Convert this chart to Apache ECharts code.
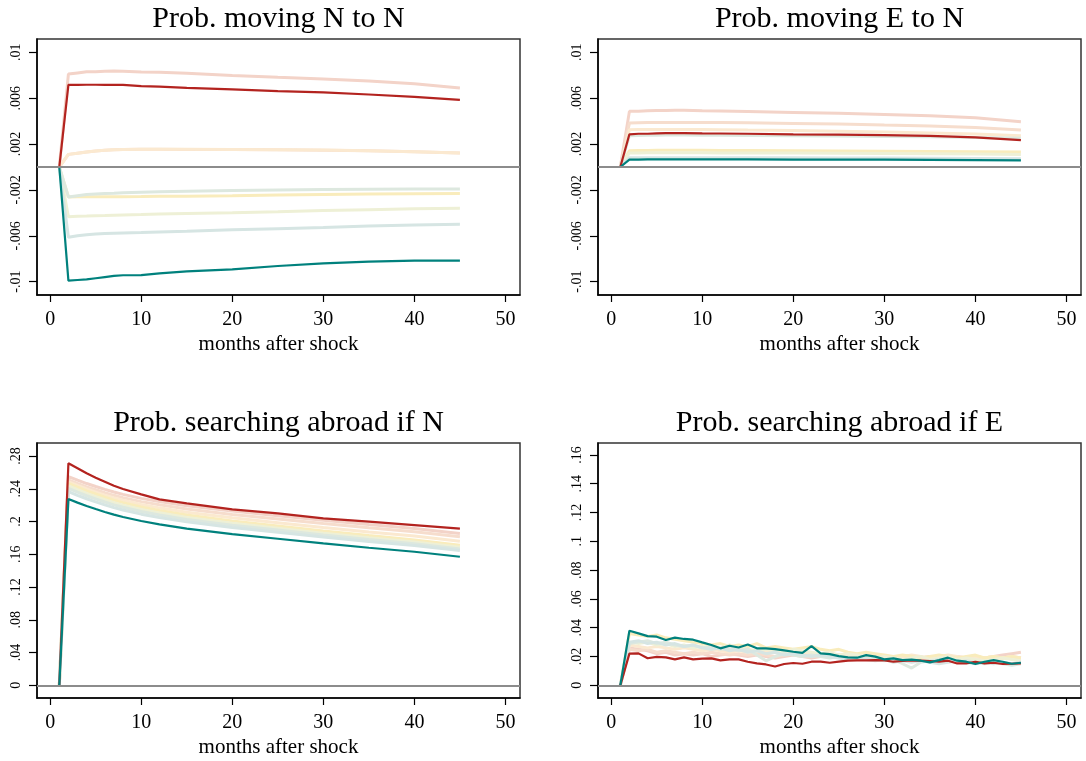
<!DOCTYPE html>
<html>
<head>
<meta charset="utf-8">
<script src="https://cdn.jsdelivr.net/npm/echarts@6/dist/echarts.min.js"></script>
<style>
  html, body { margin: 0; padding: 0; background: #fff; }
  #chart { width: 1086px; height: 761px; }
</style>
</head>
<body>
<div id="chart"></div>
<script>
  // months on the x axis: smooth panels read at selected months, last panel every month
  const monthsSmooth = [1, 2, 3, 4, 5, 6, 7, 8, 10, 12, 15, 20, 25, 30, 35, 40, 45];
  const monthsAll = [1, 2, 3, 4, 5, 6, 7, 8, 9, 10, 11, 12, 13, 14, 15, 16, 17, 18, 19, 20,
    21, 22, 23, 24, 25, 26, 27, 28, 29, 30, 31, 32, 33, 34, 35, 36, 37, 38, 39, 40,
    41, 42, 43, 44, 45];

  const xTicks = [0, 10, 20, 30, 40, 50];
  const yTicksNN = [-0.01, -0.006, -0.002, 0.002, 0.006, 0.01];
  const yTicksEN = [-0.01, -0.006, -0.002, 0.002, 0.006, 0.01];
  const yTicksSN = [0, 0.04, 0.08, 0.12, 0.16, 0.2, 0.24, 0.28];
  const yTicksSE = [0, 0.02, 0.04, 0.06, 0.08, 0.1, 0.12, 0.14, 0.16];

  const titles = ['Prob. moving N to N', 'Prob. moving E to N',
    'Prob. searching abroad if N', 'Prob. searching abroad if E'];

  // Prob. moving N to N
  const nnRed = [0, .00716, .00716, .00717, .00717, .00716, .00716, .00716, .00705, .00700, .00690, .00676, .00662, .00650, .00632, .00612, .00586];
  const nnPink = [0, .0081, .0082, .0083, .0083, .00835, .00837, .00835, .00828, .00826, .00818, .00798, .00782, .00767, .0075, .00725, .00688];
  const nnPeach = [0, .0011, .0012, .0013, .0014, .00145, .0015, .00152, .00154, .00154, .00153, .00152, .0015, .00147, .00141, .00132, .00121];
  const nnOrange = [0, .0011, .0012, .0013, .0014, .00145, .0015, .00153, .00155, .00155, .00154, .00153, .00151, .00148, .00142, .00133, .00122];
  const nnYellow = [0, -.00261, -.0026, -.0026, -.0026, -.0026, -.00259, -.00259, -.00258, -.00256, -.00254, -.0025, -.00245, -.0024, -.00236, -.00233, -.00232];
  const nnPaleYG = [0, -.00433, -.0043, -.00428, -.00425, -.00423, -.0042, -.00418, -.00415, -.0041, -.00405, -.00398, -.0039, -.0038, -.00372, -.00365, -.0036];
  const nnGreenGray = [0, -.00261, -.0025, -.0024, -.00235, -.0023, -.00228, -.00225, -.0022, -.00216, -.00212, -.00205, -.002, -.00196, -.00193, -.00192, -.00192];
  const nnGrayTeal = [0, -.00613, -.006, -.0059, -.00585, -.0058, -.00578, -.00576, -.00572, -.00566, -.0056, -.00548, -.00538, -.00528, -.00515, -.00505, -.005];
  const nnTeal = [0, -.0099, -.00985, -.0098, -.0097, -.0096, -.0095, -.00944, -.00942, -.00927, -.0091, -.00892, -.00863, -.0084, -.00825, -.00816, -.00816];

  // Prob. moving E to N
  const enRed = [0, .00285, .0029, .0029, .00293, .00295, .00296, .00296, .00293, .00292, .0029, .00285, .00283, .00278, .00272, .00258, .00235];
  const enPink = [0, .00485, .00487, .0049, .00492, .00493, .00494, .00494, .0049, .00488, .00484, .00476, .00468, .00458, .00447, .0043, .00395];
  const enPeach = [0, .00383, .00385, .00387, .00388, .00389, .00389, .00389, .00389, .00388, .00385, .0038, .00375, .00366, .00358, .00345, .00322];
  const enOrange = [0, .00325, .00326, .00327, .00327, .00327, .00327, .00327, .00326, .00325, .00322, .00318, .00312, .00305, .00297, .00288, .00273];
  const enYellow = [0, .00142, .00143, .00144, .00145, .00145, .00145, .00145, .00145, .00144, .00143, .00142, .0014, .00138, .00136, .00133, .0013];
  const enPaleYG = [0, .00122, .00123, .00124, .00124, .00124, .00124, .00124, .00124, .00123, .00122, .00121, .0012, .00118, .00116, .00113, .0011];
  const enGreenGray = [0, .00273, .00275, .00276, .00277, .00278, .00278, .00278, .00277, .00276, .00275, .00272, .0027, .00267, .00263, .00258, .0025];
  const enGrayTeal = [0, .0008, .0008, .0008, .00081, .00081, .00081, .00081, .00081, .0008, .0008, .0008, .00079, .00078, .00076, .00074, .00072];
  const enTeal = [0, .00064, .00065, .00066, .00066, .00066, .00066, .00066, .00066, .00066, .00066, .00065, .00065, .00064, .00062, .0006, .00058];

  // Prob. searching abroad if N
  const snRed = [0, .2711, .265, .2589, .2536, .2487, .2438, .2398, .2332, .2271, .2222, .2149, .21, .2039, .1998, .1957, .1913];
  const snPink = [0, .2548, .2505, .2464, .2428, .2393, .236, .2332, .2283, .2244, .2192, .2127, .2071, .2015, .1963, .1915, .1855];
  const snPeach = [0, .2508, .2465, .2424, .2388, .2353, .232, .2292, .2243, .2204, .2152, .2087, .2031, .1975, .1923, .1875, .1815];
  const snOrange = [0, .2485, .244, .2397, .236, .2323, .2289, .2259, .2208, .2167, .2113, .2045, .1986, .1927, .1873, .1822, .176];
  const snYellow = [0, .2467, .242, .2375, .2336, .2297, .2262, .2231, .2178, .2135, .2079, .2008, .1946, .1885, .1828, .1775, .171];
  const snPaleYG = [0, .2434, .2388, .2343, .2304, .2266, .2231, .22, .2148, .2106, .205, .1979, .1919, .1858, .1802, .1749, .1685];
  const snGreenGray = [0, .2405, .2359, .2315, .2277, .2239, .2204, .2174, .2122, .2081, .2025, .1956, .1896, .1836, .178, .1729, .1665];
  const snGrayTeal = [0, .2365, .232, .2278, .224, .2204, .217, .214, .209, .205, .1996, .1928, .187, .1811, .1757, .1707, .1645];
  const snTeal = [0, .2275, .2231, .219, .2153, .2117, .2084, .2055, .2006, .1966, .1913, .1847, .179, .1733, .168, .1631, .157];

  // Prob. searching abroad if E
  const seRed = [0, .022, .0222, .0188, .0197, .0194, .018, .0194, .018, .0185, .0187, .0173, .018, .018, .0164, .0152, .0145, .0131, .0148, .0155,
    .015, .0164, .0164, .0157, .0164, .0171, .0173, .0173, .0175, .0173, .0164, .0169, .0173, .0171, .0169, .0164, .0171, .0152, .0152, .0164,
    .0152, .0157, .0148, .015, .0152];
  const sePink = [0, .026, .025, .024, .022, .023, .021, .022, .021, .022, .020, .021, .022, .021, .020, .021, .020, .019, .020, .021,
    .020, .019, .020, .021, .020, .019, .020, .019, .020, .019, .018, .019, .020, .019, .020, .019, .020, .020, .019, .020,
    .019, .020, .021, .022, .023];
  const sePeach = [0, .025, .024, .025, .023, .024, .023, .022, .023, .022, .023, .022, .021, .022, .021, .022, .021, .020, .021, .022,
    .021, .020, .021, .020, .021, .020, .019, .020, .019, .020, .019, .018, .019, .018, .019, .020, .019, .018, .019, .020,
    .019, .018, .019, .020, .019];
  const seOrange = [0, .028, .027, .026, .027, .026, .025, .026, .025, .024, .025, .024, .023, .024, .023, .024, .023, .024, .023, .022,
    .023, .022, .021, .022, .021, .022, .021, .020, .021, .020, .019, .020, .021, .020, .019, .020, .021, .020, .019, .020,
    .019, .020, .019, .020, .019];
  const seYellow = [0, .036, .035, .034, .035, .033, .032, .031, .030, .029, .028, .029, .027, .028, .027, .029, .026, .027, .026, .025,
    .026, .027, .025, .024, .025, .023, .022, .023, .022, .021, .020, .021, .020, .019, .020, .021, .020, .019, .020, .021,
    .019, .020, .019, .020, .019];
  const sePaleYG = [0, .030, .029, .030, .028, .029, .027, .028, .026, .027, .025, .026, .028, .026, .025, .024, .025, .024, .023, .025,
    .024, .023, .022, .023, .021, .022, .021, .020, .019, .020, .019, .018, .019, .020, .018, .019, .020, .018, .019, .018,
    .017, .018, .019, .018, .017];
  const seGreenGray = [0, .029, .030, .031, .029, .030, .028, .027, .028, .026, .027, .025, .026, .024, .025, .021, .017, .020, .022, .021,
    .020, .021, .020, .019, .020, .019, .018, .019, .018, .017, .018, .015, .012, .016, .017, .018, .017, .016, .017, .016,
    .015, .016, .015, .014, .015];
  const seGrayTeal = [0, .030, .031, .029, .030, .028, .029, .027, .028, .026, .025, .026, .024, .025, .023, .024, .022, .023, .021, .022,
    .021, .020, .021, .020, .019, .018, .019, .018, .017, .018, .016, .017, .016, .017, .016, .015, .016, .017, .016, .015,
    .016, .015, .016, .015, .016];
  const seTeal = [0, .0379, .0361, .0342, .0338, .0315, .0331, .0322, .0317, .0298, .028, .0257, .0275, .0263, .0284, .0257, .0257, .0252, .0243, .0233,
    .0226, .0273, .0222, .0217, .0203, .0194, .0192, .021, .0199, .018, .0187, .0175, .0178, .0171, .0159, .0175, .0192, .0171, .0164, .0148,
    .0164, .0175, .0164, .015, .0157];

  const serif = "'Liberation Serif', 'Times New Roman', serif";
  const fadedColors = ['#f3d3c8', '#f6ddcd', '#fbe9d0', '#f9ecbc', '#eef0d6', '#dde8df', '#d6e5e3'];
  const strongColors = ['#b3231f', '#00817d'];

  const panels = [
    { months: monthsSmooth, ymin: -0.01116, ymax: 0.01116, ticks: yTicksNN, left: 37, top: 39, height: 256,
      faded: [nnPink, nnPeach, nnOrange, nnYellow, nnPaleYG, nnGreenGray, nnGrayTeal], strong: [nnRed, nnTeal] },
    { months: monthsSmooth, ymin: -0.01116, ymax: 0.01116, ticks: yTicksEN, left: 598, top: 39, height: 256,
      faded: [enPink, enPeach, enOrange, enYellow, enPaleYG, enGreenGray, enGrayTeal], strong: [enRed, enTeal] },
    { months: monthsSmooth, ymin: -0.0155, ymax: 0.2959, ticks: yTicksSN, left: 37, top: 443, height: 255,
      faded: [snPink, snPeach, snOrange, snYellow, snPaleYG, snGreenGray, snGrayTeal], strong: [snRed, snTeal] },
    { months: monthsAll, ymin: -0.0088, ymax: 0.1683, ticks: yTicksSE, left: 598, top: 443, height: 255,
      faded: [sePink, sePeach, seOrange, seYellow, sePaleYG, seGreenGray, seGrayTeal], strong: [seRed, seTeal] }
  ];
  const panelWidth = 483;

  function fmt(v) {
    return String(+v.toFixed(4)).replace(/^(-?)0\./, '$1.');
  }

  const grid = [], xAxis = [], yAxis = [], series = [], title = [];
  panels.forEach(function (p, i) {
    grid.push({ left: p.left, top: p.top, width: panelWidth, height: p.height,
      show: true, borderColor: '#333', borderWidth: 1.5, containLabel: false });
    title.push({ text: titles[i], left: p.left + panelWidth / 2, top: p.top - 35, textAlign: 'center', padding: 0,
      textStyle: { fontFamily: serif, fontSize: 30, fontWeight: 'normal', color: '#000' } });
    xAxis.push({
      gridIndex: i, type: 'value', min: -1.45, max: 51.6,
      name: 'months after shock', nameLocation: 'middle', nameGap: 39,
      nameTextStyle: { fontFamily: serif, fontSize: 21, color: '#000' },
      axisLine: { show: true, onZero: false, lineStyle: { color: '#000', width: 1.5 } },
      axisTick: { show: true, length: 7, customValues: xTicks, lineStyle: { color: '#000', width: 1.2 } },
      axisLabel: { customValues: xTicks, margin: 15, fontFamily: serif, fontSize: 20, color: '#000' },
      splitLine: { show: false }
    });
    yAxis.push({
      gridIndex: i, type: 'value', min: p.ymin, max: p.ymax,
      axisLine: { show: true, onZero: false, lineStyle: { color: '#000', width: 1.5 } },
      axisTick: { show: true, length: 8, customValues: p.ticks, lineStyle: { color: '#000', width: 1.2 } },
      axisLabel: { customValues: p.ticks, rotate: 90, margin: 14, fontFamily: serif, fontSize: 14, color: '#000',
        formatter: fmt },
      splitLine: { show: false }
    });
    p.faded.forEach(function (vals, k) {
      series.push({
        type: 'line', xAxisIndex: i, yAxisIndex: i, symbol: 'none', silent: true,
        data: p.months.map(function (m, j) { return [m, vals[j]]; }),
        lineStyle: { color: fadedColors[k], width: 3 },
        markLine: k === 0 ? {
          silent: true, symbol: 'none', label: { show: false },
          lineStyle: { color: '#8c8c8c', width: 2, type: 'solid' },
          data: [{ yAxis: 0 }]
        } : undefined
      });
    });
    p.strong.forEach(function (vals, k) {
      series.push({
        type: 'line', xAxisIndex: i, yAxisIndex: i, symbol: 'none', silent: true,
        data: p.months.map(function (m, j) { return [m, vals[j]]; }),
        lineStyle: { color: strongColors[k], width: 2.2 }
      });
    });
  });

  const chart = echarts.init(document.getElementById('chart'));
  chart.setOption({
    animation: false,
    backgroundColor: '#fff',
    title: title,
    grid: grid,
    xAxis: xAxis,
    yAxis: yAxis,
    series: series
  });
</script>
</body>
</html>
